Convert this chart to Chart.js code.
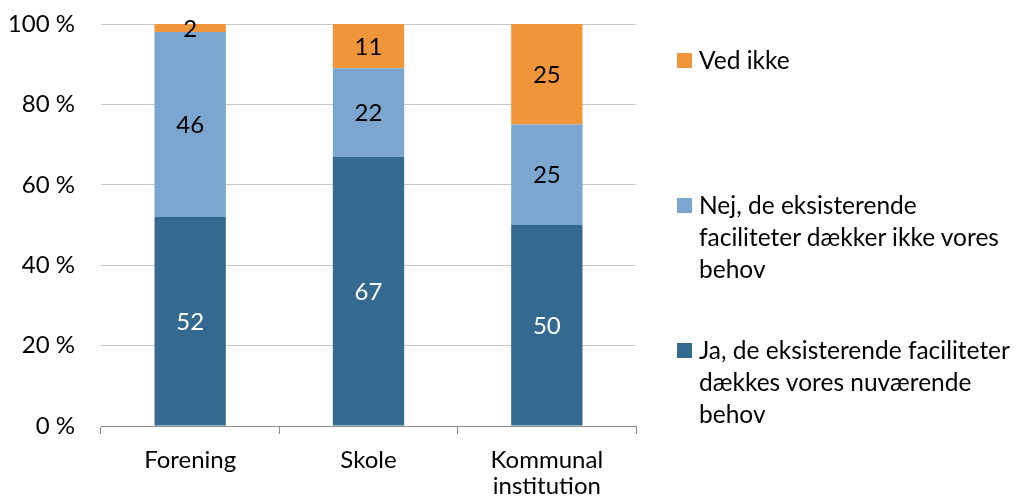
<!DOCTYPE html>
<html lang="da">
<head>
<meta charset="utf-8">
<title>Faciliteter</title>
<script src="https://cdn.jsdelivr.net/npm/chart.js@4/dist/chart.umd.min.js"></script>
<style>
    body { margin: 0; background: #fff; font-family: Lato, "Open Sans", sans-serif; }
    #wrap { position: relative; width: 1016px; height: 502px; }
    #legend { position: absolute; left: 677px; top: 0; }
    .item { position: absolute; left: 0; white-space: nowrap; font-size: 24.5px; line-height: 32px; color: #000; }
    .item .box { position: absolute; left: 0; top: 9px; width: 15px; height: 15px; }
    .item .txt { margin-left: 22px; }
</style>
</head>
<body>
<div id="wrap">
    <canvas id="chart" width="1016" height="502"></canvas>
    <div id="legend"></div>
</div>
<script>
const categories = ['Forening', 'Skole', ['Kommunal', 'institution']];
const jaValues = [52, 67, 50];
const nejValues = [46, 22, 25];
const vedIkkeValues = [2, 11, 25];
const seriesNames = [
    ['Ja, de eksisterende faciliteter', 'dækkes vores nuværende', 'behov'],
    ['Nej, de eksisterende', 'faciliteter dækker ikke vores', 'behov'],
    ['Ved ikke']
];
const yTicks = [0, 20, 40, 60, 80, 100];

const colors = ['#346A90', '#7AA6CF', '#F0963A'];
const labelColors = ['#fff', '#000', '#000'];

const FONT = 'Lato, "Open Sans", sans-serif';
const FONT_SIZE = 24;

// writes each segment's value in the middle of the segment
const barLabels = {
    id: 'barLabels',
    afterDatasetsDraw(chart) {
        const ctx = chart.ctx;
        ctx.save();
        ctx.font = FONT_SIZE + 'px ' + FONT;
        ctx.textAlign = 'center';
        ctx.textBaseline = 'middle';
        chart.data.datasets.forEach((ds, i) => {
            const meta = chart.getDatasetMeta(i);
            ctx.fillStyle = labelColors[i];
            meta.data.forEach((bar, j) => {
                const p = bar.getCenterPoint();
                ctx.fillText(ds.data[j], p.x, p.y + 1);
            });
        });
        ctx.restore();
    }
};

const ctx = document.getElementById('chart').getContext('2d');
const chart = new Chart(ctx, {
    type: 'bar',
    data: {
        labels: categories,
        datasets: [
            { label: seriesNames[0].join(' '), data: jaValues, backgroundColor: colors[0] },
            { label: seriesNames[1].join(' '), data: nejValues, backgroundColor: colors[1] },
            { label: seriesNames[2].join(' '), data: vedIkkeValues, backgroundColor: colors[2] }
        ]
    },
    options: {
        responsive: false,
        animation: false,
        layout: { padding: { top: 24, right: 380, left: 0, bottom: 0 } },
        datasets: { bar: { barPercentage: 0.4, categoryPercentage: 1 } },
        plugins: { legend: { display: false }, tooltip: { enabled: false } },
        scales: {
            x: {
                stacked: true,
                grid: { offset: true, drawOnChartArea: false, drawTicks: true, tickLength: 8, color: '#8C8C8C' },
                border: { color: '#8C8C8C' },
                ticks: { color: '#000', font: { family: FONT, size: FONT_SIZE, lineHeight: 1.05 }, padding: 14, maxRotation: 0 },
                afterFit: scale => {
                    scale.height = 76;
                    scale.paddingLeft = 0;
                    scale.paddingRight = 0;
                }
            },
            y: {
                stacked: true,
                min: 0,
                max: 100,
                afterBuildTicks: scale => { scale.ticks = yTicks.map(v => ({ value: v })); },
                grid: { color: '#C8C8C8', drawTicks: false },
                border: { display: false },
                ticks: { color: '#000', font: { family: FONT, size: FONT_SIZE }, padding: 26, callback: v => v + ' %' },
                afterFit: scale => {
                    scale.width = 101;
                    scale.paddingTop = 0;
                    scale.paddingBottom = 0;
                }
            }
        }
    },
    plugins: [barLabels]
});

// legend on the right, top entry is the last series
const legendTops = [334, 189, 44];
const legend = document.getElementById('legend');
for (let i = seriesNames.length - 1; i >= 0; i--) {
    const item = document.createElement('div');
    item.className = 'item';
    item.style.top = legendTops[i] + 'px';
    const box = document.createElement('span');
    box.className = 'box';
    box.style.background = colors[i];
    const txt = document.createElement('div');
    txt.className = 'txt';
    txt.innerHTML = seriesNames[i].join('<br>');
    item.appendChild(box);
    item.appendChild(txt);
    legend.appendChild(item);
}
</script>
</body>
</html>
